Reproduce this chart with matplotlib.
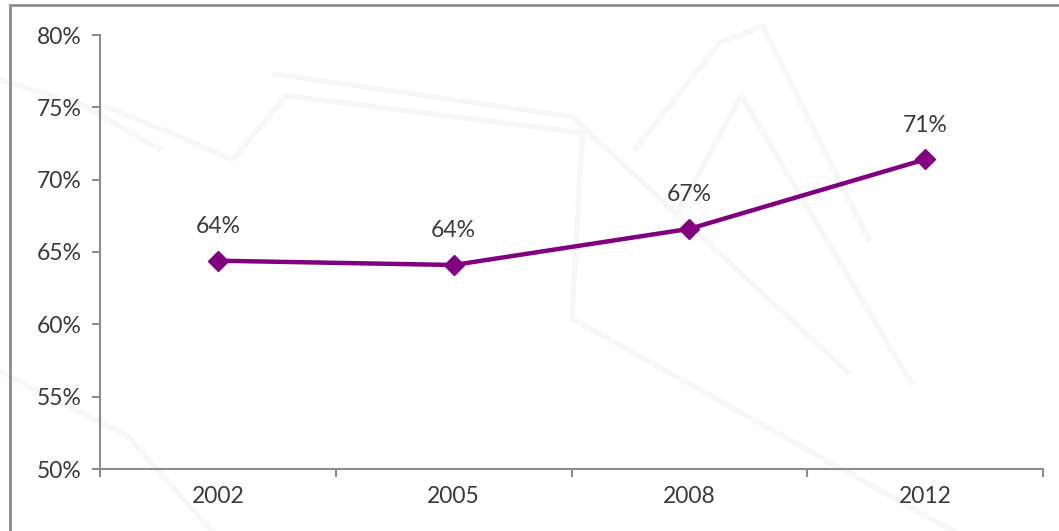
import matplotlib.pyplot as plt
from matplotlib.patches import Rectangle
from matplotlib.lines import Line2D

years = ['2002', '2005', '2008', '2012']
share = [64.4, 64.1, 66.6, 71.4]
yticks = [50, 55, 60, 65, 70, 75, 80]

W, H = 1059, 531
fig = plt.figure(figsize=(W / 100, H / 100), dpi=100)
plt.rcParams['font.family'] = ['Lato', 'DejaVu Sans']
txt = dict(fontsize=16.5, color='#3a3a3a')

# faint background sketch lines
sketch = [
    ([0.10, 0.22, 0.27, 0.55, 0.54, 0.90], [0.80, 0.70, 0.82, 0.75, 0.40, 0.00]),
    ([0.26, 0.54, 0.80], [0.86, 0.78, 0.30]),
    ([0.60, 0.68, 0.72, 0.82], [0.72, 0.92, 0.95, 0.55]),
    ([0.64, 0.70, 0.86], [0.60, 0.82, 0.28]),
    ([0.00, 0.12, 0.20], [0.30, 0.18, 0.00]),
    ([0.00, 0.08, 0.15], [0.85, 0.80, 0.72]),
]
for xs, ys in sketch:
    fig.add_artist(Line2D(xs, ys, transform=fig.transFigure, color='#f7f7f7', lw=4, zorder=0))

# outer frame
fig.add_artist(Rectangle((10 / W, -0.05), 1.1, 1 - 5 / H + 0.05, transform=fig.transFigure,
                         fill=False, edgecolor='#8c8c8c', lw=2, zorder=1))

ax = fig.add_axes([100 / W, 1 - 469 / H, (1043 - 100) / W, (469 - 35) / H])
ax.patch.set_alpha(0)

x = list(range(len(years)))
ax.plot(x, share, color='#800080', lw=3.2, marker='D', markersize=10, zorder=3)
for xi, v in zip(x, share):
    ax.annotate(f'{v:.0f}%', (xi, v), xytext=(0, 17), textcoords='offset points',
                ha='center', va='bottom', **txt)

ax.set_xlim(-0.5, len(years) - 0.5)
ax.set_ylim(50, 80)
ax.set_yticks(yticks)
ax.set_yticklabels([f'{t}%' for t in yticks], **txt)
ax.set_xticks([i - 0.5 for i in range(len(years) + 1)])
ax.set_xticklabels([])
ax.set_xticks(x, minor=True)
ax.set_xticklabels(years, minor=True, **txt)
ax.tick_params(axis='x', which='minor', length=0, pad=12)
ax.tick_params(axis='x', which='major', length=6, color='#8c8c8c', width=1.5)
ax.tick_params(axis='y', length=6, color='#8c8c8c', width=1.5, pad=7)
for s in ['top', 'right']:
    ax.spines[s].set_visible(False)
for s in ['left', 'bottom']:
    ax.spines[s].set_color('#8c8c8c')
    ax.spines[s].set_linewidth(1.5)

fig.savefig('out.png', dpi=100)
